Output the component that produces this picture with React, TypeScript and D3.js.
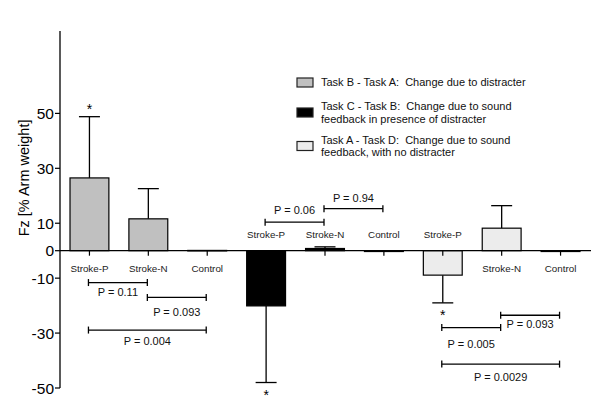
import React from 'react';
import * as d3 from 'd3';

// categories within each task comparison
const categories = ['Stroke-P', 'Stroke-N', 'Control'];
const groups = ['B-A', 'C-B', 'A-D'];

// mean change in Fz (% arm weight) and SD for each group
const changeBA = [26.5, 11.6, 0.1];
const errBA = [22.3, 11.0, 0];
const changeCB = [-20.1, 0.8, -0.3];
const errCB = [27.9, 0.6, 0];
const changeAD = [-8.9, 8.2, -0.3];
const errAD = [10.1, 8.2, 0];

const yTicks = [50, 30, 10, 0, -10, -30, -50];

// which category labels sit above the zero line
const labelAbove = [
  [false, false, false],
  [true, true, true],
  [true, false, false],
];

// significance stars [group, category]
const stars = [[0, 0], [1, 0], [2, 0]];

// pairwise comparisons: group, from cat, to cat, bracket level (data units), p label, label offset
const comparisons = [
  { g: 0, a: 0, b: 1, level: -11.6, p: 'P = 0.11', dy: 10 },
  { g: 0, a: 1, b: 2, level: -17, p: 'P = 0.093', dy: 15 },
  { g: 0, a: 0, b: 2, level: -28.9, p: 'P = 0.004', dy: 11 },
  { g: 1, a: 0, b: 1, level: 10.4, p: 'P = 0.06', dy: -12 },
  { g: 1, a: 1, b: 2, level: 15.3, p: 'P = 0.94', dy: -11 },
  { g: 2, a: 1, b: 2, level: -23.5, p: 'P = 0.093', dy: 9 },
  { g: 2, a: 0, b: 1, level: -28, p: 'P = 0.005', dy: 17 },
  { g: 2, a: 0, b: 2, level: -41.3, p: 'P = 0.0029', dy: 13 },
];

const legendLabels = [
  ['Task B - Task A:  Change due to distracter'],
  ['Task C - Task B:  Change due to sound', 'feedback in presence of distracter'],
  ['Task A - Task D:  Change due to sound', 'feedback, with no distracter'],
];
const fills = ['#c0c0c0', '#000000', '#ececec'];

const W = 600;
const H = 417;
const font = '"Liberation Sans", Arial, sans-serif';

export default function App() {
  const values = [changeBA, changeCB, changeAD];
  const errs = [errBA, errCB, errAD];

  const bars = groups.flatMap((g, gi) =>
    categories.map((c, ci) => ({
      key: gi * 3 + ci,
      gi,
      ci,
      cat: c,
      v: values[gi][ci],
      e: errs[gi][ci],
    }))
  );

  const x = d3
    .scaleBand<number>()
    .domain(bars.map((d) => d.key))
    .range([60, 590])
    .paddingInner(0.34)
    .paddingOuter(0.17);
  const y = d3.scaleLinear().domain([-50, 80]).range([388, 31]);
  const bw = x.bandwidth();
  const cx = (gi: number, ci: number) => (x(gi * 3 + ci) as number) + bw / 2;
  const y0 = y(0);

  return (
    <svg
      width={W}
      height={H}
      style={{ position: 'absolute', left: 0, top: 0, background: '#fff' }}
      fontFamily={font}
    >
      {/* bars */}
      {bars.map((d) => {
        const x0 = x(d.key) as number;
        const top = y(Math.max(0, d.v));
        const h = Math.abs(y(d.v) - y0);
        const sign = d.v >= 0 ? 1 : -1;
        const errEnd = y(d.v + sign * d.e);
        const c = x0 + bw / 2;
        return (
          <g key={d.key}>
            {d.e > 0 && (
              <g stroke="#000" strokeWidth={1.3}>
                <line x1={c} x2={c} y1={y(d.v)} y2={errEnd} />
                <line x1={c - bw * 0.27} x2={c + bw * 0.27} y1={errEnd} y2={errEnd} />
              </g>
            )}
            <rect
              x={x0}
              y={top}
              width={bw}
              height={Math.max(h, 0.5)}
              fill={fills[d.gi]}
              stroke="#000"
              strokeWidth={1.2}
            />
          </g>
        );
      })}

      {/* zero line with category ticks */}
      <line x1={60} x2={591} y1={y0} y2={y0} stroke="#000" strokeWidth={1.3} />
      {bars.map((d) => (
        <line
          key={'t' + d.key}
          x1={cx(d.gi, d.ci)}
          x2={cx(d.gi, d.ci)}
          y1={y0}
          y2={y0 + 5}
          stroke="#000"
          strokeWidth={1.2}
        />
      ))}

      {/* category labels */}
      {bars.map((d) => (
        <text
          key={'l' + d.key}
          x={cx(d.gi, d.ci)}
          y={labelAbove[d.gi][d.ci] ? y0 - 13 : y0 + 21}
          fontSize={9.8}
          textAnchor="middle"
          fill="#222"
        >
          {d.cat}
        </text>
      ))}

      {/* y axis */}
      <line x1={60} x2={60} y1={y(80)} y2={y(-50)} stroke="#000" strokeWidth={1.3} />
      {yTicks.map((t) => (
        <g key={t}>
          <line x1={55} x2={60} y1={y(t)} y2={y(t)} stroke="#000" strokeWidth={1.2} />
          <text x={54} y={y(t)} dy="0.36em" fontSize={15.5} textAnchor="end" fill="#000">
            {t}
          </text>
        </g>
      ))}
      <text
        transform={`translate(29,${y(26.5)}) rotate(-90)`}
        fontSize={14.5}
        textAnchor="middle"
        fill="#000"
      >
        Fz [% Arm weight]
      </text>

      {/* significance stars */}
      {stars.map(([gi, ci]) => {
        const v = values[gi][ci];
        const e = errs[gi][ci];
        const end = y(v + (v >= 0 ? e : -e));
        return (
          <text
            key={'s' + gi}
            x={cx(gi, ci)}
            y={v >= 0 ? end - 3 : end + 17}
            fontSize={14}
            textAnchor="middle"
          >
            *
          </text>
        );
      })}

      {/* comparison brackets */}
      {comparisons.map((c, i) => {
        const xa = cx(c.g, c.a) - 1;
        const xb = cx(c.g, c.b) - 1;
        const yl = y(c.level);
        return (
          <g key={'c' + i}>
            <g stroke="#000" strokeWidth={1.3}>
              <line x1={xa} x2={xb} y1={yl} y2={yl} />
              <line x1={xa} x2={xa} y1={yl - 3.5} y2={yl + 3.5} />
              <line x1={xb} x2={xb} y1={yl - 3.5} y2={yl + 3.5} />
            </g>
            <text
              x={(xa + xb) / 2}
              y={yl + c.dy}
              dy="0.35em"
              fontSize={11}
              textAnchor="middle"
              fill="#111"
            >
              {c.p}
            </text>
          </g>
        );
      })}

      {/* legend */}
      {legendLabels.map((lines, i) => {
        const cy = [82.5, 112.5, 146][i];
        return (
          <g key={'lg' + i}>
            <rect
              x={297}
              y={cy - 4.5}
              width={16}
              height={9}
              fill={fills[i]}
              stroke="#222"
              strokeWidth={1.2}
            />
            {lines.map((ln, j) => (
              <text
                key={j}
                x={321}
                y={cy + (j - (lines.length - 1) / 2) * 12.5}
                dy="0.35em"
                fontSize={11}
                fill="#111"
                style={{ whiteSpace: 'pre' }}
              >
                {ln}
              </text>
            ))}
          </g>
        );
      })}
    </svg>
  );
}
